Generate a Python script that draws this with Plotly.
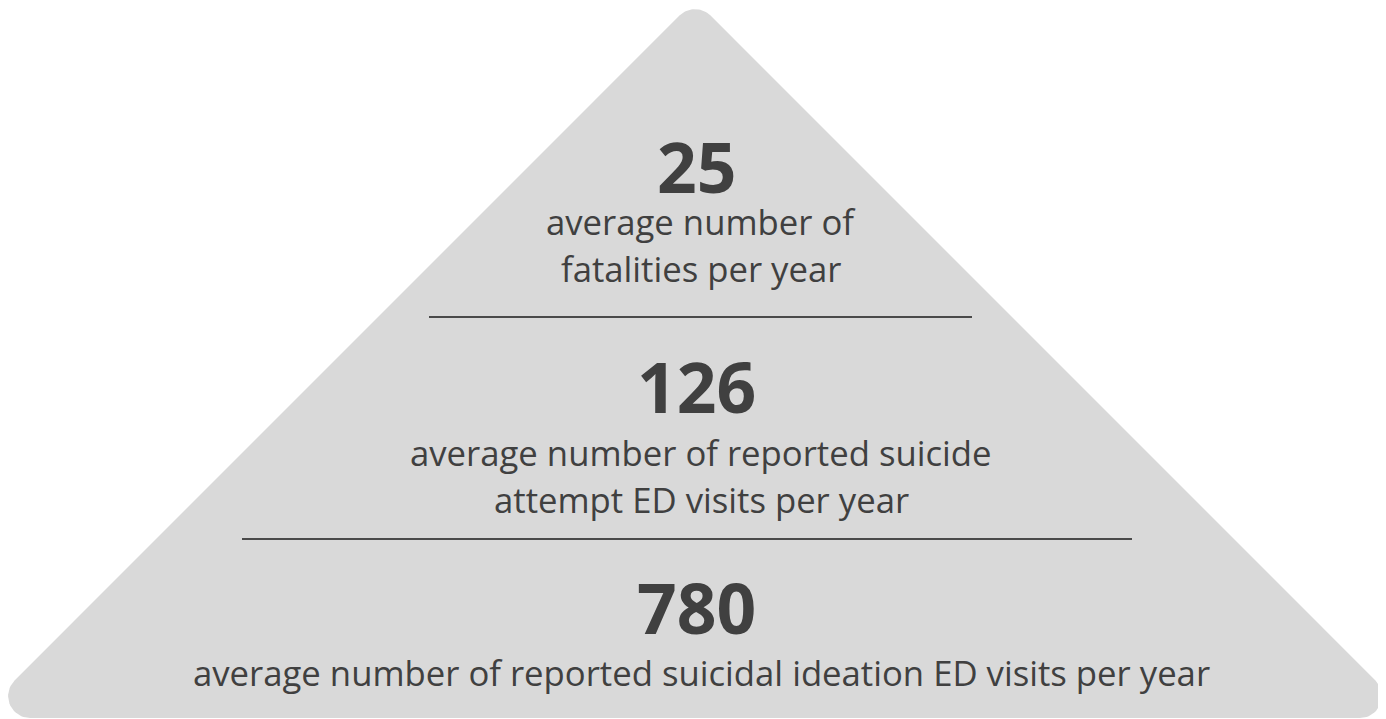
import numpy as np
import plotly.graph_objects as go

# figures shown in each tier of the pyramid, top to bottom
tier_numbers = ["25", "126", "780"]
tier_labels = [
    ["average number of", "fatalities per year"],
    ["average number of reported suicide", "attempt ED visits per year"],
    ["average number of reported suicidal ideation ED visits per year"],
]

W, H = 1386, 719
PAD = 8  # the page body keeps an 8px margin, so the plot starts at (8, 8)
TEXT = "#404040"
GREY = "#d9d9d9"

# layout in window pixels (y grows downward)
number_x, label_x = 696, 701
number_y = [166, 386, 607]
label_y = [[221, 268], [452, 499], [672]]
divider_y = [317, 539]
divider_x = [(429, 972), (242, 1132)]


def rounded_polygon(verts, r, n=24):
    verts = np.asarray(verts, dtype=float)
    pts = []
    for i, v in enumerate(verts):
        p = verts[i - 1]
        nx = verts[(i + 1) % len(verts)]
        u1 = (p - v) / np.linalg.norm(p - v)
        u2 = (nx - v) / np.linalg.norm(nx - v)
        theta = np.arccos(np.clip(np.dot(u1, u2), -1, 1))
        d = r / np.tan(theta / 2)
        bis = (u1 + u2) / np.linalg.norm(u1 + u2)
        c = v + bis * r / np.sin(theta / 2)
        t1, t2 = v + u1 * d, v + u2 * d
        a1 = np.arctan2(*(t1 - c)[::-1])
        a2 = np.arctan2(*(t2 - c)[::-1])
        da = (a2 - a1 + np.pi) % (2 * np.pi) - np.pi
        for a in a1 + da * np.linspace(0, 1, n):
            pts.append(c + r * np.array([np.cos(a), np.sin(a)]))
    pts.append(pts[0])
    return np.array(pts)


cx, base = 695, 718
tri = rounded_polygon([(cx, 0), (cx + base, base), (cx - base, base)], 22)

fig = go.Figure()
fig.add_trace(go.Scatter(
    x=tri[:, 0], y=tri[:, 1], mode="lines", fill="toself",
    fillcolor=GREY, line=dict(width=0), hoverinfo="skip", showlegend=False,
))

for (x0, x1), y in zip(divider_x, divider_y):
    fig.add_shape(type="line", x0=x0, x1=x1, y0=y, y1=y,
                  line=dict(color="#4a4a4a", width=2))

for num, ny, lines, ly in zip(tier_numbers, number_y, tier_labels, label_y):
    fig.add_annotation(x=number_x, y=ny, text=num, showarrow=False,
                       font=dict(family="Open Sans", size=69.5, color=TEXT, weight="bold"))
    for txt, y in zip(lines, ly):
        fig.add_annotation(x=label_x, y=y, text=txt, showarrow=False,
                           font=dict(family="Open Sans", size=34.7, color=TEXT))

fig.update_layout(
    width=W - PAD, height=H - PAD,
    margin=dict(l=0, r=0, t=0, b=0),
    paper_bgcolor="white", plot_bgcolor="white",
    xaxis=dict(range=[PAD, W], visible=False, fixedrange=True),
    yaxis=dict(range=[H, PAD], visible=False, fixedrange=True),
)

fig.write_html("out.html")
